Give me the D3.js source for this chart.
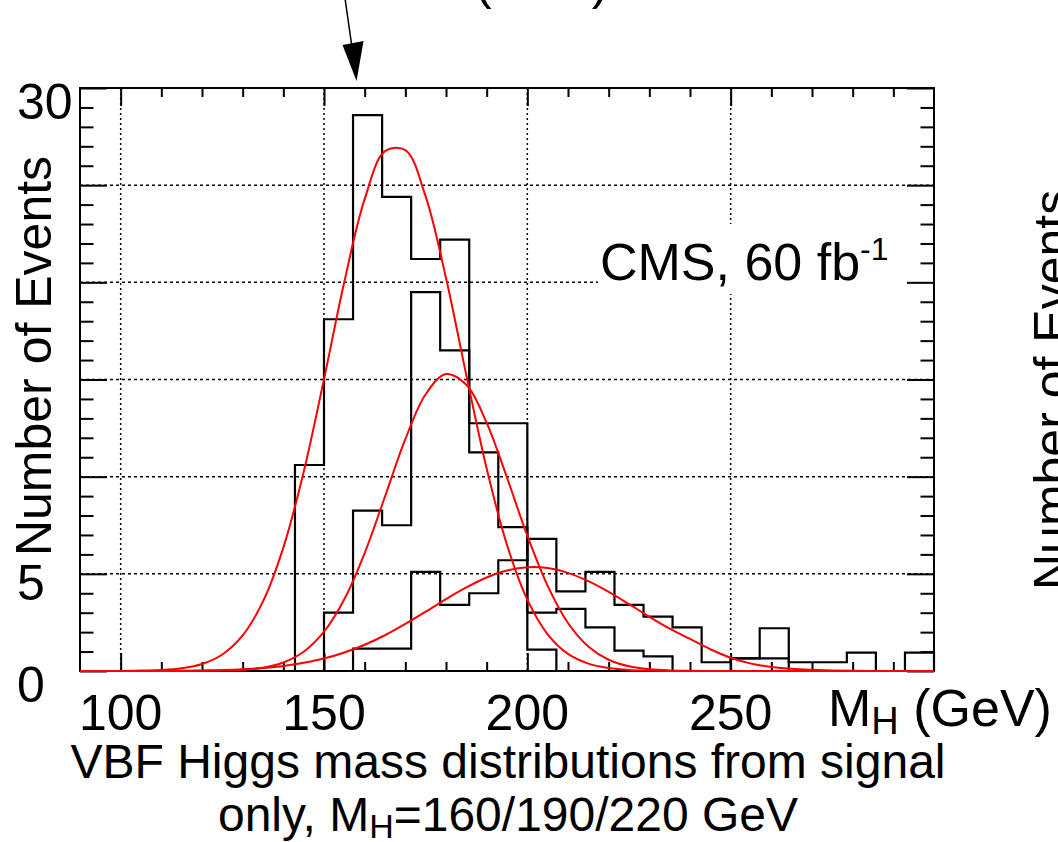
<!DOCTYPE html>
<html>
<head>
<meta charset="utf-8">
<script src="https://cdn.jsdelivr.net/npm/d3@7"></script>
<style>
  html, body { margin: 0; padding: 0; background: #fff; }
  svg text { font-family: "Liberation Sans", Arial, Helvetica, sans-serif; fill: #000; }
</style>
</head>
<body>
<div id="chart"></div>
<script>
// histogram bin edges (GeV), 28 bins from 100 to 300
const binEdges = [100, 107.14, 114.29, 121.43, 128.57, 135.71, 142.86, 150, 157.14, 164.29,
  171.43, 178.57, 185.71, 192.86, 200, 207.14, 214.29, 221.43, 228.57, 235.71,
  242.86, 250, 257.14, 264.29, 271.43, 278.57, 285.71, 292.86, 300];

// events per bin, one array per generated Higgs mass
const counts160 = [0, 0, 0, 0, 0, 0, 10.6, 18.1, 28.6, 24.4, 21.2, 22.2, 11.25, 7.4, 1.1,
  0, 0, 0, 0, 0, 0, 0, 0, 0, 0, 0, 0, 0];
const counts190 = [0, 0, 0, 0, 0, 0, 0, 3.0, 8.25, 7.5, 19.5, 16.5, 12.75, 12.75, 3.0,
  3.2, 2.25, 1.05, 0.75, 0, 0, 0.65, 0.65, 0, 0, 0, 0, 0];
const counts220 = [0, 0, 0, 0, 0, 0, 0, 0, 1.15, 1.15, 5.1, 3.4, 4.0, 5.7, 6.8,
  4.1, 5.1, 3.4, 2.8, 2.25, 0.45, 0.65, 2.2, 0.45, 0.45, 0.95, 0, 0.95];

// gaussian fit curves, every 5 GeV
const fitMass = [90, 95, 100, 105, 110, 115, 120, 125, 130, 135, 140, 145, 150, 155, 160,
  165, 170, 175, 180, 185, 190, 195, 200, 205, 210, 215, 220, 225, 230, 235,
  240, 245, 250, 255, 260, 265, 270, 275, 280, 285, 290, 295, 300];
const fit160 = [0, 0, 0, 0.02, 0.05, 0.14, 0.36, 0.85, 1.83, 3.58, 6.35, 10.24, 15.02, 20.03, 24.28,
  26.75, 26.8, 24.41, 20.22, 15.22, 10.42, 6.49, 3.67, 1.89, 0.88, 0.38, 0.15, 0.05, 0.02, 0,
  0, 0, 0, 0, 0, 0, 0, 0, 0, 0, 0, 0, 0];
const fit190 = [0, 0, 0, 0, 0, 0, 0.01, 0.02, 0.06, 0.17, 0.44, 0.99, 2.02, 3.69, 6.07,
  8.98, 11.93, 14.24, 15.28, 14.73, 12.77, 9.95, 6.96, 4.38, 2.47, 1.26, 0.58, 0.24, 0.09, 0.03,
  0.01, 0, 0, 0, 0, 0, 0, 0, 0, 0, 0, 0, 0];
const fit220 = [0, 0, 0, 0, 0.01, 0.01, 0.03, 0.05, 0.09, 0.16, 0.26, 0.42, 0.64, 0.95, 1.35,
  1.84, 2.42, 3.05, 3.7, 4.3, 4.81, 5.17, 5.34, 5.3, 5.05, 4.62, 4.07, 3.44, 2.79, 2.18,
  1.65, 1.12, 0.68, 0.38, 0.21, 0.11, 0.06, 0.03, 0.01, 0, 0, 0, 0];

// axis ticks
const xMajorTicks = [100, 150, 200, 250];
const xMinorTicks = [110, 120, 130, 140, 160, 170, 180, 190, 210, 220, 230, 240, 260, 270, 280, 290];
const yMajorTicks = [0, 5, 10, 15, 20, 25, 30];
const yMinorTicks = [1, 2, 3, 4, 6, 7, 8, 9, 11, 12, 13, 14, 16, 17, 18, 19, 21, 22, 23, 24, 26, 27, 28, 29];
const xLabelTicks = [100, 150, 200, 250];
const yLabelTicks = [0, 5, 30];
const arrowMass = 158;

const width = 1058, height = 842;
const padL = 80, padR = 934, padT = 88, padB = 671;

const svg = d3.select("#chart").append("svg")
  .attr("width", width).attr("height", height);

const x = d3.scaleLinear().domain([90, 300]).range([padL, padR]);
const y = d3.scaleLinear().domain([0, 30]).range([padB, padT]);

// dotted grid
svg.append("g").selectAll("line").data(xMajorTicks).enter().append("line")
  .attr("x1", d => x(d)).attr("x2", d => x(d))
  .attr("y1", padT).attr("y2", padB)
  .attr("stroke", "#000").attr("stroke-width", 1.5).attr("stroke-dasharray", "2,3");
svg.append("g").selectAll("line").data(yMajorTicks.filter(d => d > 0 && d < 30)).enter().append("line")
  .attr("x1", padL).attr("x2", padR)
  .attr("y1", d => y(d)).attr("y2", d => y(d))
  .attr("stroke", "#000").attr("stroke-width", 1.5).attr("stroke-dasharray", "3,3");

// label box hides the grid behind it
svg.append("rect")
  .attr("x", 598).attr("y", 224).attr("width", padR - 598).attr("height", 70)
  .attr("fill", "#fff");
const cms = svg.append("text").attr("x", 600).attr("y", 280).attr("font-size", 52);
cms.append("tspan").text("CMS, 60 fb");
cms.append("tspan").attr("font-size", 32).attr("dy", -20).text("-1");

// ticks on all four sides, pointing inward
function ticks(axis, values, size, transform) {
  const g = svg.append("g").attr("transform", transform)
    .call(axis.tickValues(values).tickSize(-size).tickFormat(""));
  g.select(".domain").remove();
  g.selectAll("line").attr("stroke", "#000").attr("stroke-width", 2);
}
ticks(d3.axisBottom(x), xMajorTicks, 18, `translate(0,${padB})`);
ticks(d3.axisBottom(x), xMinorTicks, 9, `translate(0,${padB})`);
ticks(d3.axisTop(x), xMajorTicks, 18, `translate(0,${padT})`);
ticks(d3.axisTop(x), xMinorTicks, 9, `translate(0,${padT})`);
ticks(d3.axisLeft(y), yMajorTicks, 27, `translate(${padL},0)`);
ticks(d3.axisLeft(y), yMinorTicks, 13.5, `translate(${padL},0)`);
ticks(d3.axisRight(y), yMajorTicks, 27, `translate(${padR},0)`);
ticks(d3.axisRight(y), yMinorTicks, 13.5, `translate(${padR},0)`);

svg.append("rect")
  .attr("x", padL).attr("y", padT).attr("width", padR - padL).attr("height", padB - padT)
  .attr("fill", "none").attr("stroke", "#000").attr("stroke-width", 2);

// histograms as step outlines
const step = d3.line().x(d => x(d[0])).y(d => y(d[1])).curve(d3.curveStepAfter);
[counts160, counts190, counts220].forEach(c => {
  const pts = c.map((v, i) => [binEdges[i], v]);
  pts.push([binEdges[binEdges.length - 1], 0]);
  svg.append("path").attr("d", step(pts))
    .attr("fill", "none").attr("stroke", "#000").attr("stroke-width", 2.2);
});

// fit curves
const fitLine = d3.line().x((d, i) => x(fitMass[i])).y(d => y(d)).curve(d3.curveCatmullRom);
[fit160, fit190, fit220].forEach(f => {
  svg.append("path").attr("d", fitLine(f))
    .attr("fill", "none").attr("stroke", "#ff0000").attr("stroke-width", 2);
});

// tick labels
svg.append("g").selectAll("text").data(xLabelTicks).enter().append("text")
  .attr("x", d => x(d)).attr("y", 730).attr("text-anchor", "middle")
  .attr("font-size", 50).text(d => d);
svg.append("g").selectAll("text").data(yLabelTicks).enter().append("text")
  .attr("x", 17).attr("y", d => y(d) + (d === 5 ? 26 : 31))
  .attr("font-size", 50).text(d => d);

// axis titles
const xt = svg.append("text").attr("x", 828).attr("y", 726).attr("font-size", 52);
xt.append("tspan").text("M");
xt.append("tspan").attr("font-size", 38).attr("dy", 8).text("H");
xt.append("tspan").attr("dy", -8).text(" (GeV)");

svg.append("text")
  .attr("transform", "translate(51,356) rotate(-90)")
  .attr("text-anchor", "middle").attr("font-size", 50)
  .text("Number of Events");

// neighbouring panel title, cut by the edge
svg.append("text")
  .attr("transform", "translate(1069,590) rotate(-90)")
  .attr("font-size", 50)
  .text("Number of Events");

// caption
svg.append("text").attr("x", 508).attr("y", 778).attr("text-anchor", "middle")
  .attr("font-size", 48).text("VBF Higgs mass distributions from signal");
const cap2 = svg.append("text").attr("x", 508).attr("y", 831).attr("text-anchor", "middle")
  .attr("font-size", 48);
cap2.append("tspan").text("only, M");
cap2.append("tspan").attr("font-size", 34).attr("dy", 7).text("H");
cap2.append("tspan").attr("dy", -7).text("=160/190/220 GeV");

// annotation arrow from the panel above
const tipX = x(arrowMass), tipY = padT - 7;
svg.append("line")
  .attr("x1", tipX - 12).attr("y1", -5).attr("x2", tipX - 4).attr("y2", tipY - 30)
  .attr("stroke", "#000").attr("stroke-width", 1.5);
svg.append("path")
  .attr("d", `M${tipX},${tipY} L${tipX - 14},${tipY - 36} L${tipX + 7},${tipY - 40} Z`)
  .attr("fill", "#000");
svg.append("text").attr("x", 475).attr("y", -1).attr("font-size", 50).text("(GeV)");
</script>
</body>
</html>
